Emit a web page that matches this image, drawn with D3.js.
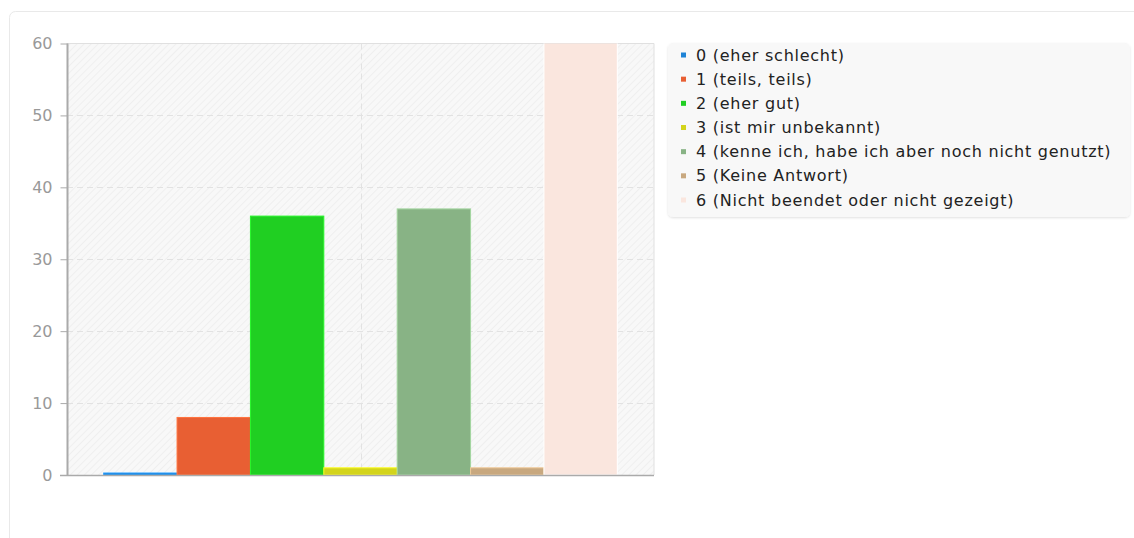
<!DOCTYPE html>
<html>
<head>
<meta charset="utf-8">
<script src="https://cdn.jsdelivr.net/npm/d3@7"></script>
<style>
  html, body { margin: 0; padding: 0; background: #ffffff; }
  svg { display: block; font-family: "DejaVu Sans", sans-serif; }
</style>
</head>
<body>
<svg id="chart" width="1134" height="538"></svg>
<script>
// Answer categories and response counts
const categories = [
  "0 (eher schlecht)",
  "1 (teils, teils)",
  "2 (eher gut)",
  "3 (ist mir unbekannt)",
  "4 (kenne ich, habe ich aber noch nicht genutzt)",
  "5 (Keine Antwort)",
  "6 (Nicht beendet oder nicht gezeigt)"
];
const counts = [0, 8, 36, 1, 37, 1, 120];
const colors = ["#1f83d6", "#e85f33", "#20cf22", "#d3d41c", "#88b385", "#c8a87f", "#fae6de"];
const yTicks = [0, 10, 20, 30, 40, 50, 60];

const svg = d3.select("#chart");

// Card frame
svg.append("rect")
  .attr("x", 9.5).attr("y", 11.5)
  .attr("width", 1140).attr("height", 540)
  .attr("rx", 6)
  .attr("fill", "#ffffff").attr("stroke", "#e9e9e9");

const plot = { left: 67, right: 654, top: 43.5, bottom: 475 };

const x = d3.scaleBand()
  .domain(categories)
  .range([plot.left, plot.right])
  .paddingInner(0)
  .paddingOuter(0.5);

const y = d3.scaleLinear()
  .domain([0, 60])
  .range([plot.bottom, plot.top]);

// Hatched plot background
const defs = svg.append("defs");
const pat = defs.append("pattern")
  .attr("id", "hatch")
  .attr("patternUnits", "userSpaceOnUse")
  .attr("width", 5).attr("height", 5)
  .attr("patternTransform", "rotate(45)");
pat.append("rect").attr("width", 5).attr("height", 5).attr("fill", "#f8f8f8");
pat.append("line").attr("x1", 0).attr("y1", 0).attr("x2", 0).attr("y2", 5)
  .attr("stroke", "#efefef").attr("stroke-width", 2);

defs.append("clipPath").attr("id", "plotClip")
  .append("rect")
  .attr("x", plot.left).attr("y", plot.top)
  .attr("width", plot.right - plot.left).attr("height", plot.bottom - plot.top);

svg.append("rect")
  .attr("x", plot.left).attr("y", plot.top)
  .attr("width", plot.right - plot.left).attr("height", plot.bottom - plot.top)
  .attr("fill", "url(#hatch)");

// Horizontal dashed grid
svg.append("g")
  .selectAll("line")
  .data(yTicks.filter(d => d > 0 && d < 60))
  .join("line")
  .attr("x1", plot.left).attr("x2", plot.right)
  .attr("y1", d => Math.round(y(d)) + 0.5).attr("y2", d => Math.round(y(d)) + 0.5)
  .attr("stroke", "#e2e2e2").attr("stroke-dasharray", "6,4");

// Vertical dashed grid line in the middle
const midX = Math.round((plot.left + plot.right) / 2) + 0.5;
svg.append("line")
  .attr("x1", midX).attr("x2", midX)
  .attr("y1", plot.top).attr("y2", plot.bottom)
  .attr("stroke", "#e2e2e2").attr("stroke-dasharray", "6,4");

// Frame on top and right
svg.append("path")
  .attr("d", `M${plot.left},${plot.top}H${plot.right}V${plot.bottom}`)
  .attr("fill", "none").attr("stroke", "#e0e0e0");

// Bars
svg.append("g")
  .attr("clip-path", "url(#plotClip)")
  .selectAll("rect")
  .data(categories.map((c, i) => ({ c, v: counts[i], col: colors[i] })))
  .join("rect")
  .attr("x", d => x(d.c))
  .attr("width", x.bandwidth())
  .attr("y", d => Math.min(y(d.v), plot.bottom - 2))
  .attr("height", d => Math.max(plot.bottom - y(d.v), 2))
  .attr("fill", d => d.col)
  .attr("stroke", d => d3.color(d.col).brighter(0.5))
  .attr("stroke-width", 1);

// Y axis
const yAxis = d3.axisLeft(y)
  .tickValues(yTicks)
  .tickSize(7)
  .tickPadding(8);
const gy = svg.append("g")
  .attr("transform", `translate(${plot.left + 0.5},0)`)
  .call(yAxis);
gy.select(".domain").attr("stroke", "#aaaaaa").attr("stroke-width", 2)
  .attr("d", `M0,${plot.top}V${plot.bottom}`);
gy.selectAll(".tick line").attr("stroke", "#aaaaaa");
gy.selectAll(".tick text")
  .attr("fill", "#999999")
  .style("font-size", "16px")
  .style("font-family", "DejaVu Sans, sans-serif");

// X axis baseline
svg.append("line")
  .attr("x1", plot.left - 7).attr("x2", plot.right)
  .attr("y1", plot.bottom + 0.5).attr("y2", plot.bottom + 0.5)
  .attr("stroke", "#aaaaaa").attr("stroke-width", 1.5);

// Legend
const lg = svg.append("g");
const shadow = defs.append("filter").attr("id", "lgShadow")
  .attr("x", "-5%").attr("y", "-5%").attr("width", "110%").attr("height", "115%");
shadow.append("feDropShadow")
  .attr("dx", 0).attr("dy", 1).attr("stdDeviation", 1.2)
  .attr("flood-color", "#000").attr("flood-opacity", 0.12);

lg.append("rect")
  .attr("x", 668).attr("y", 43)
  .attr("width", 462).attr("height", 174)
  .attr("rx", 5)
  .attr("fill", "#f8f8f8")
  .attr("filter", "url(#lgShadow)");

const rowY = d3.scalePoint().domain(categories).range([55, 200]);
const items = lg.selectAll("g.item")
  .data(categories.map((c, i) => ({ c, col: colors[i] })))
  .join("g").attr("class", "item")
  .attr("transform", d => `translate(0,${rowY(d.c)})`);
items.append("rect")
  .attr("x", 681).attr("y", -2.5)
  .attr("width", 5).attr("height", 5)
  .attr("fill", d => d.col);
items.append("text")
  .attr("x", 696).attr("y", 0)
  .attr("dy", "0.35em")
  .attr("fill", "#222222")
  .style("font-size", "16px")
  .style("letter-spacing", "0.75px")
  .text(d => d.c);
</script>
</body>
</html>
